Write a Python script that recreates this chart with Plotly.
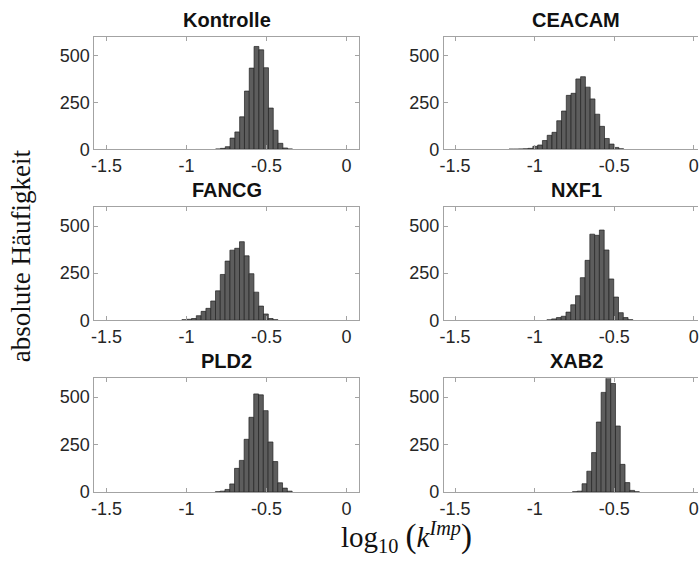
import plotly.graph_objects as go

# Histogram bin width (log10 units) shared by all panels
BIN_WIDTH = 0.03

# Panel titles, in row-major order (2 columns x 3 rows)
titles = ["Kontrolle", "CEACAM", "FANCG", "NXF1", "PLD2", "XAB2"]

# Left edge of the first non-empty bin and the bin counts for each sample
kontrolle_start = -0.818
kontrolle_counts = [2, 5, 14, 60, 93, 174, 312, 435, 551, 533, 437, 221, 102, 32, 7, 2]

ceacam_start = -1.161
ceacam_counts = [1, 1, 2, 3, 5, 16, 23, 47, 75, 91, 153, 205, 289, 300, 377, 389,
                 333, 270, 188, 123, 58, 28, 10, 3]

fancg_start = -1.029
fancg_counts = [3, 5, 9, 24, 47, 63, 102, 156, 243, 314, 372, 382, 417, 342, 247,
                149, 75, 33, 9, 3]

nxf1_start = -0.923
nxf1_counts = [2, 7, 14, 21, 43, 82, 130, 226, 318, 457, 451, 479, 373, 219, 123,
               40, 14, 3]

pld2_start = -0.820
pld2_counts = [2, 5, 14, 43, 125, 167, 278, 394, 517, 512, 429, 264, 161, 49, 21, 5]

xab2_start = -0.762
xab2_counts = [2, 5, 44, 110, 208, 369, 525, 605, 572, 348, 146, 50, 9, 2]

starts = [kontrolle_start, ceacam_start, fancg_start, nxf1_start, pld2_start, xab2_start]
counts = [kontrolle_counts, ceacam_counts, fancg_counts, nxf1_counts, pld2_counts, xab2_counts]

# Axis ticks
x_tickvals = [-1.5, -1, -0.5, 0]
x_ticktext = ["-1.5", "-1", "-0.5", "0"]
y_tickvals = [0, 250, 500]
y_ticktext = ["0", "250", "500"]

W, H = 699, 563
col_px = [(91, 358), (443, 699)]
col_range = [(-1.5764, 0.0807), (-1.5705, 0.0265)]
row_px = [(38, 152), (211, 326), (385, 501)]

BOX = "#a3a3a3"
TXT = "#262626"
TICKFONT = dict(family="Liberation Sans, Arial, sans-serif", size=18, color=TXT)

fig = go.Figure()
layout = dict(
    width=W, height=H,
    margin=dict(l=0, r=0, t=0, b=0),
    paper_bgcolor="white", plot_bgcolor="white",
    showlegend=False,
)
annotations = []

for i, (title, start, cnt) in enumerate(zip(titles, starts, counts)):
    r, c = divmod(i, 2)
    idx = "" if i == 0 else str(i + 1)
    centers = [start + (k + 0.5) * BIN_WIDTH for k in range(len(cnt))]
    fig.add_trace(go.Bar(
        x=centers, y=cnt, width=BIN_WIDTH,
        marker=dict(color="#5d5d5d", line=dict(color="#222222", width=0.7)),
        xaxis="x" + idx, yaxis="y" + idx,
        hoverinfo="x+y",
    ))
    x0, x1 = col_px[c]
    y0, y1 = row_px[r]
    xdom = [x0 / W, x1 / W]
    ydom = [1 - y1 / H, 1 - y0 / H]
    layout["xaxis" + idx] = dict(
        domain=xdom, range=list(col_range[c]), anchor="y" + idx,
        tickvals=x_tickvals, ticktext=x_ticktext,
        ticks="inside", ticklen=4, tickcolor=BOX, tickwidth=1,
        showline=True, linecolor=BOX, linewidth=1, mirror="ticks",
        showgrid=False, zeroline=False, tickfont=TICKFONT,
        ticklabeloverflow="allow",
    )
    layout["yaxis" + idx] = dict(
        domain=ydom, range=[0, 600], anchor="x" + idx,
        tickvals=y_tickvals, ticktext=y_ticktext,
        ticks="inside", ticklen=4, tickcolor=BOX, tickwidth=1,
        showline=True, linecolor=BOX, linewidth=1,
        mirror="ticks" if c == 0 else False,
        showgrid=False, zeroline=False, tickfont=TICKFONT,
    )
    annotations.append(dict(
        text="<b>%s</b>" % title, xref="paper", yref="paper",
        x=(x0 + (x0 + 267)) / 2 / W, y=1 - y0 / H,
        xanchor="center", yanchor="bottom", yshift=4, showarrow=False,
        font=dict(family="Liberation Sans, Arial, sans-serif", size=20, color="#111111"),
    ))

annotations.append(dict(
    text="absolute Häufigkeit", xref="paper", yref="paper",
    x=18 / W, y=1 - 260 / H, textangle=-90,
    xanchor="center", yanchor="middle", showarrow=False,
    font=dict(family="Liberation Serif, Times New Roman, serif", size=27, color="#111111"),
))
annotations.append(dict(
    text="log<sub>10</sub> <span style='font-size:33px'>(</span><i>k</i><sup><i>Imp</i></sup><span style='font-size:33px'>)</span>",
    xref="paper", yref="paper",
    x=405 / W, y=1 - 547 / H,
    xanchor="center", yanchor="middle", showarrow=False,
    font=dict(family="Liberation Serif, Times New Roman, serif", size=29, color="#111111"),
))

layout["annotations"] = annotations
fig.update_layout(**layout)
fig.write_html("out.html")
